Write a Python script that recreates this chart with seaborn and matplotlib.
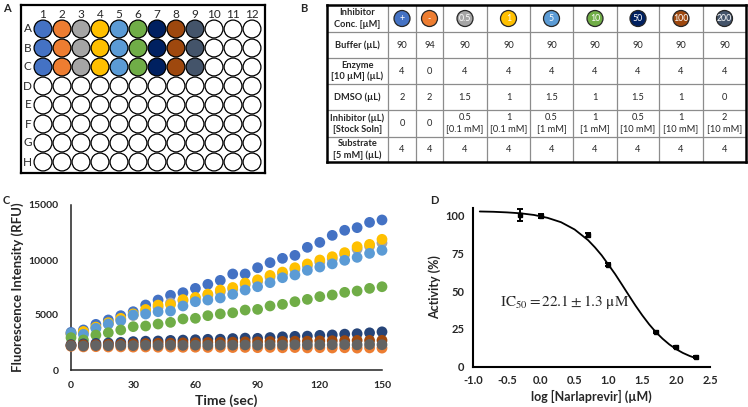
import numpy as np
import pandas as pd
import matplotlib
matplotlib.use('Agg')
import matplotlib.pyplot as plt
import seaborn as sns
from matplotlib.patches import Circle

W, H = 748, 407

# colours of the nine conditions (plate, table header)
WELL_COLORS = ['#4472C4', '#ED7D31', '#A5A5A5', '#FFC000', '#5B9BD5',
               '#70AD47', '#002060', '#9E480E', '#44546A']
# same conditions in the kinetic plot
KIN_COLORS = ['#4472C4', '#ED7D31', '#A5A5A5', '#FFC000', '#5B9BD5',
              '#70AD47', '#264478', '#9E480E', '#636363']
CONC_LABELS = ['+', '-', '0.5', '1', '5', '10', '50', '100', '200']

PLATE_ROWS = list('ABCDEFGH')
PLATE_COLS = list(range(1, 13))
FILLED_ROWS = 3

# table B
ROW_HEADERS = ['Inhibitor\nConc. [µM]', 'Buffer (µL)', 'Enzyme\n[10 µM] (µL)',
               'DMSO (µL)', 'Inhibitor (µL)\n[Stock Soln]', 'Substrate\n[5 mM] (µL)']
BUFFER = ['90', '94', '90', '90', '90', '90', '90', '90', '90']
ENZYME = ['4', '0', '4', '4', '4', '4', '4', '4', '4']
DMSO = ['2', '2', '1.5', '1', '1.5', '1', '1.5', '1', '0']
INHIBITOR = ['0', '0', '0.5\n[0.1 mM]', '1\n[0.1 mM]', '0.5\n[1 mM]', '1\n[1 mM]',
             '0.5\n[10 mM]', '1\n[10 mM]', '2\n[10 mM]']
SUBSTRATE = ['4', '4', '4', '4', '4', '4', '4', '4', '4']

# kinetics C
TIME = list(range(0, 151, 6))
RFU_POS = [3420, 3640, 4150, 4550, 4940, 5300, 5910, 6360, 6790, 7030, 7420, 7790, 8150,
           8730, 8730, 9300, 9760, 10150, 10420, 11150, 11600, 12240, 12700, 12940, 13420, 13640]
RFU_NEG = [2150, 2100, 2120, 2090, 2100, 2080, 2090, 2070, 2080, 2060, 2070, 2050, 2060,
           2040, 2050, 2030, 2050, 2020, 2040, 2010, 2030, 2000, 2020, 1990, 2010, 1990]
RFU_05 = [3250, 3450, 3850, 4200, 4600, 4950, 5350, 5700, 6100, 6300, 6500, 6800, 7100,
          7350, 7750, 8050, 8450, 8750, 9150, 9450, 9800, 10100, 10500, 11000, 11250, 11550]
RFU_1 = [3300, 3500, 3900, 4300, 4700, 5100, 5500, 5900, 5950, 6400, 6600, 6900, 7270,
         7500, 7900, 8200, 8600, 8900, 9300, 9640, 10000, 10300, 10670, 11210, 11420, 11880]
RFU_5 = [3330, 3240, 3790, 4180, 4480, 5000, 5090, 5300, 5360, 5820, 6210, 6360, 6550,
         6880, 7270, 7570, 7940, 8390, 8640, 9060, 9360, 9650, 9970, 10240, 10600, 10880]
RFU_10 = [2940, 2730, 3180, 3390, 3640, 3940, 4000, 4180, 4330, 4640, 4700, 4940, 5100,
          5200, 5450, 5510, 5820, 5970, 6210, 6420, 6670, 6820, 7060, 7180, 7420, 7570]
RFU_50 = [2310, 2380, 2420, 2460, 2510, 2580, 2620, 2640, 2690, 2720, 2750, 2790, 2800,
          2860, 2900, 2880, 2950, 3020, 3060, 3080, 3150, 3190, 3260, 3300, 3380, 3470]
RFU_100 = [2250, 2290, 2300, 2340, 2350, 2390, 2400, 2430, 2440, 2470, 2480, 2500, 2520,
           2530, 2560, 2560, 2590, 2600, 2620, 2620, 2650, 2660, 2670, 2690, 2690, 2700]
RFU_200 = [2200, 2180, 2220, 2210, 2230, 2220, 2250, 2230, 2260, 2240, 2260, 2250, 2270,
           2260, 2280, 2260, 2290, 2270, 2300, 2280, 2290, 2300, 2310, 2290, 2320, 2300]

# dose response D
LOG_CONC = [-0.3, 0.0, 0.7, 1.0, 1.7, 2.0, 2.3]
ACTIVITY = [100.3, 99.6, 87.0, 67.6, 22.7, 13.0, 6.4]
ACTIVITY_ERR = [3.8, 1.3, 1.3, 1.0, 0.6, 0.5, 0.5]
FIT_X = [-0.9, -0.7, -0.5, -0.3, -0.1, 0.1, 0.3, 0.5, 0.7, 0.8, 0.9, 1.0, 1.1, 1.2, 1.3,
         1.4, 1.5, 1.6, 1.7, 1.8, 1.9, 2.0, 2.1, 2.2, 2.3]
FIT_Y = [102.7, 102.5, 102.1, 101.5, 100.4, 98.5, 95.6, 90.8, 83.7, 79.0, 73.7, 67.5, 61.2,
         54.3, 47.3, 40.4, 34.0, 28.1, 22.9, 18.5, 14.7, 11.6, 9.1, 7.1, 5.5]

sns.set_style('white')
plt.rcParams['font.family'] = ['Lato', 'DejaVu Sans']
plt.rcParams['mathtext.fontset'] = 'stix'

fig = plt.figure(figsize=(W / 100, H / 100), dpi=100)


def px_axes(x0, y0, x1, y1):
    return fig.add_axes([x0 / W, 1 - y1 / H, (x1 - x0) / W, (y1 - y0) / H])


# ---------- A: plate ----------
axA = px_axes(21, 5, 265, 173)
axA.set_xlim((21 - 43) / 19 + 1, (265 - 43) / 19 + 1)
axA.set_ylim((173 - 29) / 19, (5 - 29) / 19)
axA.set_xticks([])
axA.set_yticks([])
for s in axA.spines.values():
    s.set_linewidth(1.6)
    s.set_color('black')
for r, row in enumerate(PLATE_ROWS):
    for c in PLATE_COLS:
        fc = WELL_COLORS[c - 1] if (r < FILLED_ROWS and c <= len(WELL_COLORS)) else 'white'
        axA.add_patch(Circle((c, r), 0.47, facecolor=fc, edgecolor='black', lw=0.9))
    axA.text(0.2, r, row, ha='center', va='center', fontsize=8.5)
for c in PLATE_COLS:
    axA.text(c, -0.76, str(c), ha='center', va='center', fontsize=8.5)

# ---------- B: table ----------
col_edges = [327, 388, 416, 443, 487, 530, 573, 617, 659, 703, 746]
row_edges = [5, 32, 58, 84, 110, 137, 162]
axB = px_axes(327, 5, 746, 162)
axB.set_xlim(327, 746)
axB.set_ylim(162, 5)
axB.set_xticks([])
axB.set_yticks([])
for s in axB.spines.values():
    s.set_linewidth(1.8)
    s.set_color('black')
for x in col_edges[1:-1]:
    axB.axvline(x, color='#8c8c8c', lw=0.9)
for y in row_edges[1:-1]:
    axB.axhline(y, color='#8c8c8c', lw=0.9)

row_values = [None, BUFFER, ENZYME, DMSO, INHIBITOR, SUBSTRATE]
for i, label in enumerate(ROW_HEADERS):
    yc = (row_edges[i] + row_edges[i + 1]) / 2
    axB.text((col_edges[0] + col_edges[1]) / 2, yc, label, ha='center', va='center',
             fontsize=6.7, fontweight='bold', linespacing=1.3)
    for j in range(len(CONC_LABELS)):
        xc = (col_edges[j + 1] + col_edges[j + 2]) / 2
        if i == 0:
            axB.add_patch(Circle((xc, yc), 8, facecolor=WELL_COLORS[j],
                                 edgecolor='#262626', lw=0.9))
            axB.text(xc, yc, CONC_LABELS[j], ha='center', va='center',
                     fontsize=6.3, color='white')
        else:
            axB.text(xc, yc, row_values[i][j], ha='center', va='center',
                     fontsize=6.7, linespacing=1.3)

# ---------- C: kinetics ----------
series = [RFU_POS, RFU_NEG, RFU_05, RFU_1, RFU_5, RFU_10, RFU_50, RFU_100, RFU_200]
df_kin = pd.DataFrame({
    'time': TIME * len(series),
    'rfu': [v for s in series for v in s],
    'conc': [lab for lab in CONC_LABELS for _ in TIME],
})
axC = px_axes(71, 205, 382, 370)
sns.scatterplot(data=df_kin, x='time', y='rfu', hue='conc', hue_order=CONC_LABELS,
                palette=KIN_COLORS, s=60, linewidth=0, legend=False, ax=axC,
                clip_on=False, zorder=3)
axC.set_xlim(0, 150)
axC.set_ylim(0, 15000)
axC.set_xticks([0, 30, 60, 90, 120, 150])
axC.set_yticks([0, 5000, 10000, 15000])
axC.tick_params(axis='x', direction='out', length=4, width=1, pad=4, labelsize=7.5)
axC.tick_params(axis='y', length=0, pad=9, labelsize=7.5)
for lab in axC.get_xticklabels() + axC.get_yticklabels():
    lab.set_fontweight('bold')
sns.despine(ax=axC)
for s in ['left', 'bottom']:
    axC.spines[s].set_linewidth(1.1)
    axC.spines[s].set_color('#222222')
axC.set_xlabel('Time (sec)', fontsize=10, fontweight='bold', labelpad=3)
axC.set_ylabel('Fluorescence Intensity (RFU)', fontsize=9.5, fontweight='bold', labelpad=3)

# ---------- D: dose response ----------
axD = px_axes(473, 208, 710, 366.7)
sns.lineplot(x=FIT_X, y=FIT_Y, color='black', lw=1.3, ax=axD)
axD.errorbar(LOG_CONC, ACTIVITY, yerr=ACTIVITY_ERR, fmt='s', ms=2.2, color='black',
             ecolor='black', elinewidth=1.4, capsize=2.5, capthick=1.4, clip_on=False)
axD.set_xlim(-1.0, 2.5)
axD.set_ylim(0, 105)
axD.set_xticks([-1.0, -0.5, 0.0, 0.5, 1.0, 1.5, 2.0, 2.5])
axD.set_xticklabels([f'{v:.1f}' for v in [-1.0, -0.5, 0.0, 0.5, 1.0, 1.5, 2.0, 2.5]])
axD.set_yticks([0, 25, 50, 75, 100])
axD.tick_params(direction='out', length=4, width=1.3, pad=2, labelsize=8)
for lab in axD.get_xticklabels() + axD.get_yticklabels():
    lab.set_fontweight('bold')
sns.despine(ax=axD)
for s in ['left', 'bottom']:
    axD.spines[s].set_linewidth(1.5)
    axD.spines[s].set_color('black')
axD.set_xlabel('log [Narlaprevir] (µM)', fontsize=9, fontweight='bold', labelpad=3)
axD.set_ylabel('Activity (%)', fontsize=9, fontweight='bold', labelpad=3)
axD.text(-0.6, 43, r'$\mathrm{IC}_{50} = 22.1 \pm 1.3\ \mathrm{\mu M}$', fontsize=11,
         ha='left', va='center')

# panel letters
for letter, (x, y) in {'A': (3, 3), 'B': (300, 3), 'C': (3, 195), 'D': (430, 195)}.items():
    fig.text(x / W, 1 - y / H, letter, ha='left', va='top', fontsize=8, fontweight='bold')

fig.savefig('out.png', dpi=100)
